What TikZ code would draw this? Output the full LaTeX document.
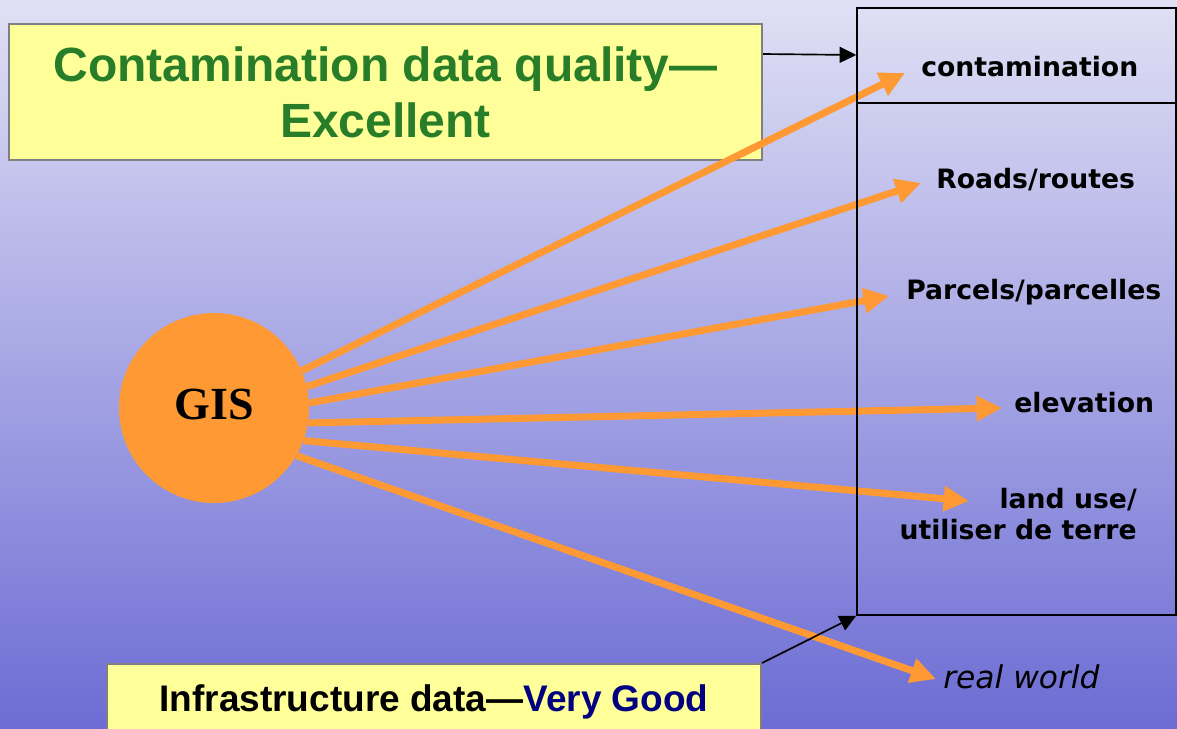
\documentclass[tikz,border=0pt]{standalone}
\usepackage{fontspec}
\setmainfont{Liberation Sans}
\newfontfamily\labelfont{DejaVu Sans}
\newfontfamily\gisfont{Liberation Serif}
\usetikzlibrary{arrows.meta,calc}

\definecolor{gisorange}{RGB}{255,153,51}
\definecolor{notepad}{RGB}{255,255,153}
\definecolor{qualgreen}{RGB}{40,125,40}
\definecolor{goodnavy}{RGB}{0,0,128}
\definecolor{bgtop}{RGB}{224,224,245}
\definecolor{bgbottom}{RGB}{108,108,212}

\tikzset{
  notebox/.style={draw={rgb,255:red,128;green,128;blue,128}, line width=1.5pt, fill=notepad, inner sep=0pt, align=center},
  feed/.style={draw=gisorange, line width=5.25pt, -{Triangle[length=19pt,width=18pt]}},
  link/.style={draw=black, line width=1.25pt, -{Triangle[length=12.5pt,width=12pt]}},
  layer/.style={font=\labelfont\bfseries\fontsize{20}{23.4}\selectfont, inner sep=0pt},
}

\begin{document}
\begin{tikzpicture}[x=0.75pt,y=0.75pt,yscale=-1,xscale=1]
	\path[use as bounding box, top color=bgtop, bottom color=bgbottom] (0,0) rectangle (1177,728);
	\clip (0,0) rectangle (1177,728);
	
	%Quality notes
	\node[notebox, minimum width=564.75pt, minimum height=102pt, text=qualgreen, font=\bfseries\fontsize{36}{42}\selectfont] (qual) at (385.5,92) {Contamination data quality—\\Excellent};
	\node[notebox, minimum width=490.5pt, minimum height=57pt, font=\bfseries\fontsize{27.75}{33}\selectfont] (infra) at (434,702) {Infrastructure data—\textcolor{goodnavy}{Very Good}};
	
	%GIS
	\node[circle, fill=gisorange, minimum size=142.5pt, inner sep=0pt, text depth=6pt, font=\gisfont\bfseries\fontsize{34.5}{40}\selectfont] (gis) at (214,408) {GIS};
	
	%Layer labels
	\node[layer, anchor=base west] (cont) at (921,76) {contamination};
	\node[layer, anchor=base west] (roads) at (936,188) {Roads/routes};
	\node[layer, anchor=base west] (parcels) at (906,299) {Parcels/parcelles};
	\node[layer, anchor=base west] (elev) at (1014,412) {elevation};
	\node[layer, align=right, anchor=east] (landuse) at (1137,514) {land use/\\utiliser de terre};
	\node[layer, anchor=base west, font=\labelfont\itshape\fontsize{23.5}{28}\selectfont] (realw) at (943,688) {real world};
	
	%Feeds
	\coordinate (tcont) at (905,73);
	\coordinate (troads) at (921,183);
	\coordinate (tparcels) at (889,296);
	\coordinate (telev) at (1002,408);
	\coordinate (tland) at (969,501);
	\coordinate (treal) at (936,679);
	\draw[feed] (gis.23) -- (tcont);
	\draw[feed] (gis.13) -- (troads);
	\draw[feed] (gis.3) -- (tparcels);
	\draw[feed] (gis.-9) -- (telev);
	\draw[feed] (gis.-20) -- (tland);
	\draw[feed] (gis.-30) -- (treal);
	
	%Layers box
	\node[draw, line width=1.1pt, minimum width=239.25pt, minimum height=455.25pt, inner sep=0pt] (layers) at (1016.5,311.5) {};
	\draw[line width=1.1pt] (layers.west |- 0,103) -- (layers.east |- 0,103);
	\draw[link] ($(qual.north east)+(0,31)$) -- (layers.west |- 0,55);
	\draw[link] (infra.north east) -- (layers.south west);
	
\end{tikzpicture}
\end{document}
